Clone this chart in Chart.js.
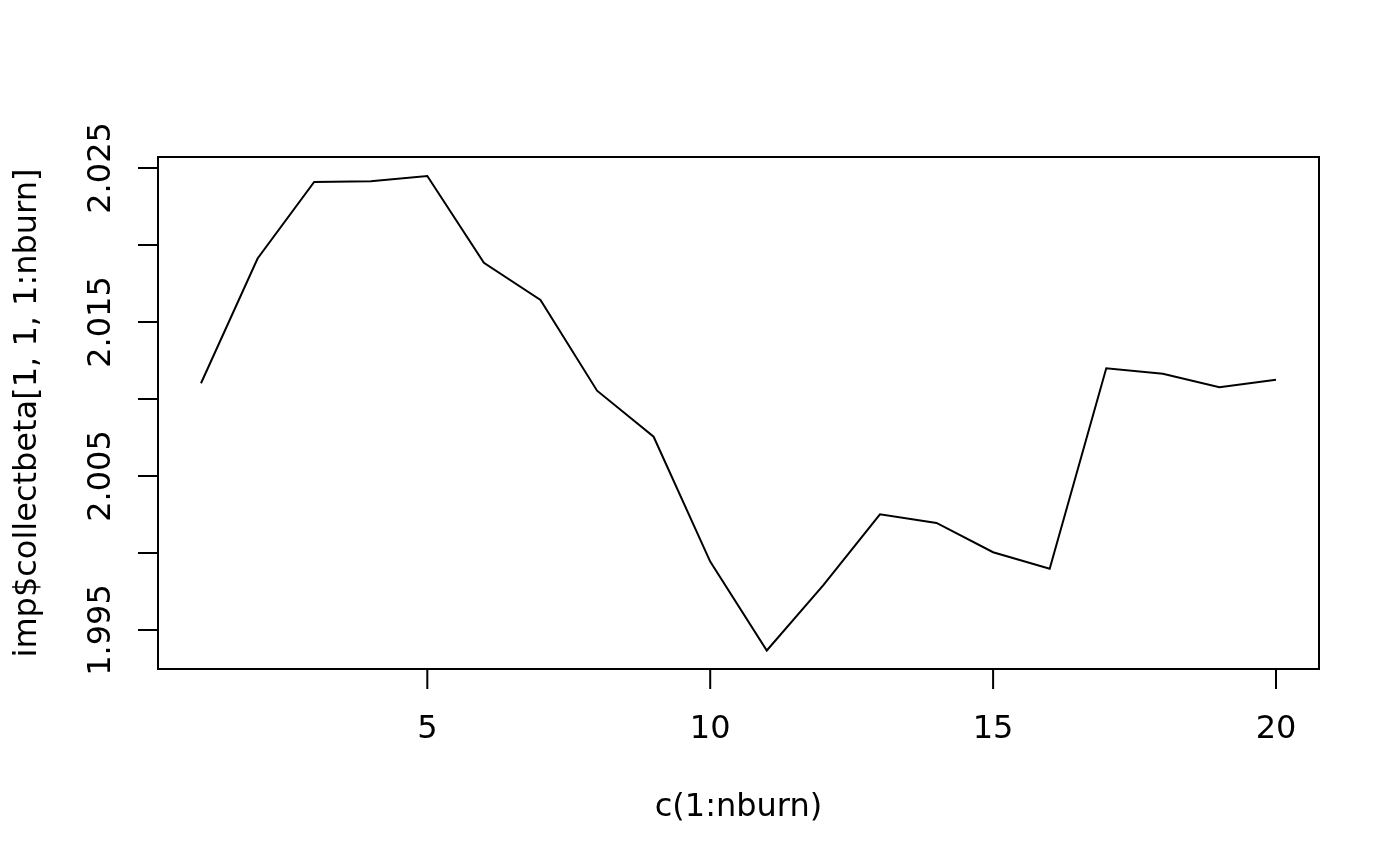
<!DOCTYPE html>
<html>
<head>
<meta charset="utf-8">
<script src="https://cdn.jsdelivr.net/npm/chart.js@4.4.1/dist/chart.umd.min.js"></script>
<style>
    body { margin: 0; background: #fff; }
    canvas { display: block; }
</style>
</head>
<body>
<canvas id="chart" width="1400" height="866"></canvas>
<script>
// iteration index and the traced beta value
var iterations = [1, 2, 3, 4, 5, 6, 7, 8, 9, 10, 11, 12, 13, 14, 15, 16, 17, 18, 19, 20];
var betaValues = [2.01102, 2.01912, 2.02409, 2.02414, 2.02448, 2.01884, 2.01643, 2.01054, 2.00755, 1.99944,
    1.99367, 1.99792, 2.00251, 2.00195, 2.00005, 1.99898, 2.01199, 2.01164, 2.01076, 2.01125];

var xTicks = [5, 10, 15, 20];
var yTicks = [1.995, 2.000, 2.005, 2.010, 2.015, 2.020, 2.025];
// R drops every other y label because they overlap
var yTickLabels = ['1.995', '', '2.005', '', '2.015', '', '2.025'];

var xTitle = 'c(1:nburn)';
var yTitle = 'imp$collectbeta[1, 1, 1:nburn]';

var FONT = '32px "DejaVu Sans"';

// base-graphics style frame, ticks and labels
var rAxes = {
    id: 'rAxes',
    afterDraw: function (chart) {
        var ctx = chart.ctx;
        var area = chart.chartArea;
        var xs = chart.scales.x;
        var ys = chart.scales.y;
        ctx.save();
        ctx.strokeStyle = '#000';
        ctx.fillStyle = '#000';
        ctx.lineWidth = 2;
        ctx.strokeRect(area.left, area.top, area.right - area.left, area.bottom - area.top);

        ctx.font = FONT;

        // x axis
        ctx.textAlign = 'center';
        ctx.textBaseline = 'middle';
        ctx.beginPath();
        var x0 = xs.getPixelForValue(xTicks[0]);
        var x1 = xs.getPixelForValue(xTicks[xTicks.length - 1]);
        ctx.moveTo(x0, area.bottom);
        ctx.lineTo(x1, area.bottom);
        xTicks.forEach(function (t) {
            var px = xs.getPixelForValue(t);
            ctx.moveTo(px, area.bottom);
            ctx.lineTo(px, area.bottom + 20);
        });
        ctx.stroke();
        xTicks.forEach(function (t) {
            ctx.fillText(String(t), xs.getPixelForValue(t), area.bottom + 61);
        });
        ctx.fillText(xTitle, (area.left + area.right) / 2, area.bottom + 139);

        // y axis
        ctx.beginPath();
        yTicks.forEach(function (t) {
            var py = ys.getPixelForValue(t);
            ctx.moveTo(area.left, py);
            ctx.lineTo(area.left - 20, py);
        });
        ctx.stroke();
        yTicks.forEach(function (t, i) {
            if (!yTickLabels[i]) return;
            ctx.save();
            ctx.translate(area.left - 56, ys.getPixelForValue(t));
            ctx.rotate(-Math.PI / 2);
            ctx.fillText(yTickLabels[i], 0, 0);
            ctx.restore();
        });
        ctx.save();
        ctx.translate(area.left - 130, (area.top + area.bottom) / 2);
        ctx.rotate(-Math.PI / 2);
        ctx.fillText(yTitle, 0, 0);
        ctx.restore();

        ctx.restore();
    }
};

var ctx = document.getElementById('chart').getContext('2d');
new Chart(ctx, {
    type: 'line',
    data: {
        datasets: [{
            data: iterations.map(function (it, i) { return { x: it, y: betaValues[i] }; }),
            borderColor: '#000',
            borderWidth: 2,
            pointRadius: 0,
            tension: 0,
            fill: false
        }]
    },
    options: {
        responsive: false,
        animation: false,
        devicePixelRatio: 1,
        layout: {
            padding: { left: 158, right: 81, top: 157, bottom: 197 }
        },
        plugins: {
            legend: { display: false },
            tooltip: { enabled: false }
        },
        scales: {
            x: { type: 'linear', min: 0.24, max: 20.76, display: false },
            y: { type: 'linear', min: 1.99247, max: 2.02571, display: false }
        }
    },
    plugins: [rAxes]
});
</script>
</body>
</html>
